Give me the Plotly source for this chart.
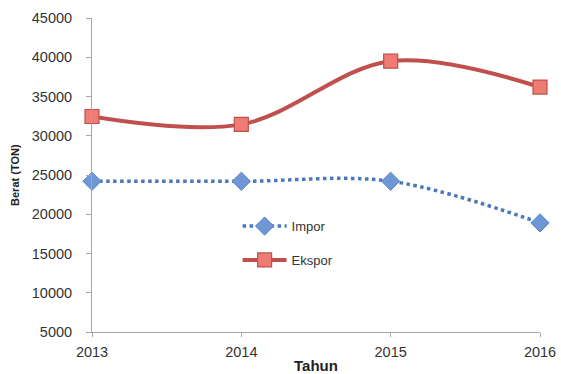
import plotly.graph_objects as go

# Data: weight (ton) per year
tahun = [2013, 2014, 2015, 2016]
impor = [24200, 24200, 24200, 18900]
ekspor = [32450, 31450, 39500, 36200]
y_ticks = [5000, 10000, 15000, 20000, 25000, 30000, 35000, 40000, 45000]

fig = go.Figure()

fig.add_trace(go.Scatter(
    x=tahun, y=impor, name="Impor", mode="lines+markers", legendgroup="impor",
    line=dict(color="#4A78B8", width=3.5, dash="dot", shape="spline", smoothing=1),
    marker=dict(symbol="diamond", size=14, color="#6F97D6",
                line=dict(color="#5A84C4", width=1)),
    cliponaxis=False,
))
fig.add_trace(go.Scatter(
    x=tahun, y=ekspor, name="Ekspor", mode="lines+markers", legendgroup="ekspor",
    line=dict(color="#C0504D", width=4, shape="spline", smoothing=1),
    marker=dict(symbol="square", size=14, color="#EE7C74",
                line=dict(color="#C0504D", width=1.2)),
    cliponaxis=False,
))

axis_font = dict(family="Liberation Sans, Arial, sans-serif", size=14.5, color="#333333")

fig.update_layout(
    width=561, height=374,
    margin=dict(l=92, r=21, t=18, b=42),
    paper_bgcolor="white", plot_bgcolor="white",
    showlegend=True,
    legend=dict(x=0.325, y=0.385, xanchor="left", yanchor="top",
                bgcolor="rgba(0,0,0,0)", tracegroupgap=14,
                font=dict(family="Liberation Sans, Arial, sans-serif", size=13, color="#333333"),
                itemwidth=44),
    xaxis=dict(range=[2013, 2016], tickvals=tahun, ticktext=[str(t) for t in tahun],
               automargin=False,
               showgrid=False, zeroline=False, showline=True, linecolor="#A6A6A6",
               linewidth=1, ticks="outside", ticklen=4, tickcolor="#A6A6A6",
               ticklabelstandoff=3, tickfont=axis_font),
    yaxis=dict(range=[5000, 45000], tickvals=y_ticks, ticktext=[str(v) for v in y_ticks],
               automargin=False,
               showgrid=False, zeroline=False,
               showline=True, linecolor="#A6A6A6", linewidth=1, ticks="outside",
               ticklen=5, tickcolor="#A6A6A6", ticklabelstandoff=11, tickfont=axis_font),
    annotations=[
        dict(text="<b>Tahun</b>", xref="paper", yref="paper", x=0.5, y=-0.108,
             xanchor="center", yanchor="middle", showarrow=False,
             font=dict(family="Liberation Sans, Arial, sans-serif", size=15, color="#222222")),
        dict(text="<b>Berat (TON)</b>", xref="paper", yref="paper", x=-0.172, y=0.5,
             xanchor="center", yanchor="middle", textangle=-90, showarrow=False,
             font=dict(family="Liberation Sans, Arial, sans-serif", size=11, color="#222222")),
    ],
)

fig.write_html("out.html")
